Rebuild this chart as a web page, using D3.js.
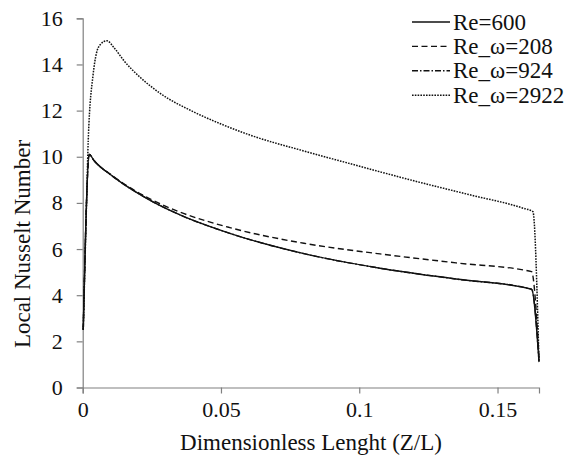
<!DOCTYPE html>
<html><head><meta charset="utf-8">
<script src="https://cdn.jsdelivr.net/npm/d3@7"></script>
</head>
<body style="margin:0;padding:0;background:#fff;"><svg id="chart" width="586" height="457" font-family="'Liberation Serif'"></svg>
<script>
// ---- data ----
const seriesNames = ["Re=600", "Re_\u03c9=208", "Re_\u03c9=924", "Re_\u03c9=2922"];
const xRe600   = [0.0002, 0.0024, 0.004, 0.011, 0.0231, 0.0352, 0.0532, 0.08, 0.1075, 0.135, 0.1623, 0.165];
const yRe600   = [2.5, 10.1, 9.85, 9.14, 8.2, 7.48, 6.68, 5.8, 5.17, 4.7, 4.26, 1.12];
const xRe208   = [0.0002, 0.0024, 0.004, 0.011, 0.0231, 0.0352, 0.0532, 0.08, 0.1075, 0.135, 0.1623, 0.165];
const yRe208   = [2.5, 10.1, 9.85, 9.16, 8.25, 7.6, 6.93, 6.25, 5.79, 5.4, 5.02, 1.3];
const xRe924   = [0.0002, 0.0024, 0.004, 0.011, 0.0231, 0.0352, 0.0532, 0.08, 0.1075, 0.135, 0.1623, 0.165];
const yRe924   = [2.5, 10.1, 9.85, 9.14, 8.2, 7.48, 6.68, 5.8, 5.17, 4.7, 4.26, 1.12];
const xRe2922  = [0.0002, 0.0015, 0.002, 0.0038, 0.005, 0.0063, 0.0087, 0.0115, 0.015, 0.0207, 0.028, 0.04, 0.05, 0.0605, 0.08, 0.0967, 0.12, 0.14, 0.159, 0.1628, 0.165];
const yRe2922  = [2.5, 8.5, 10.7, 13.6, 14.5, 14.85, 15.03, 14.7, 14.15, 13.45, 12.75, 11.95, 11.42, 10.94, 10.25, 9.7, 8.95, 8.35, 7.78, 7.62, 1.1];
const xTicks = [0, 0.05, 0.1, 0.15];
const xTickLabels = ["0", "0.05", "0.1", "0.15"];
const yTicks = [0, 2, 4, 6, 8, 10, 12, 14, 16];
const xTitle = "Dimensionless Lenght (Z/L)";
const yTitle = "Local Nusselt Number";

const seriesX = [xRe600, xRe208, xRe924, xRe2922];
const seriesY = [yRe600, yRe208, yRe924, yRe2922];
const dashes = [null, "6,3.5", "6,2,1.5,2", "1.6,1.2"];

// ---- layout ----
const FONT = "'Liberation Serif'";
const svg = d3.select("#chart");
const L = 82.7, R = 539, T = 18.3, B = 387.5;
const x = d3.scaleLinear().domain([0, 0.165]).range([L, R]);
const y = d3.scaleLinear().domain([0, 16]).range([B, T]);
const axisColor = "#808080";
const textColor = "#111";

const xAxis = svg.append("g").attr("transform", `translate(0,${B})`)
  .call(d3.axisBottom(x).tickValues(xTicks).tickFormat((d,i)=>xTickLabels[i]).tickSizeOuter(0).tickSize(6).tickPadding(8));
const yAxis = svg.append("g").attr("transform", `translate(${L},0)`)
  .call(d3.axisLeft(y).tickValues(yTicks).tickSizeOuter(0).tickSize(6).tickPadding(14));
[xAxis, yAxis].forEach(g => {
  g.attr("font-family", FONT).attr("font-size", 22);
  g.select(".domain").attr("stroke", axisColor).attr("stroke-width", 1.2);
  g.selectAll(".tick line").attr("stroke", axisColor).attr("stroke-width", 1.2);
  g.selectAll(".tick text").attr("fill", textColor).attr("font-family", FONT);
});

svg.append("text").attr("x", 311).attr("y", 450).attr("text-anchor", "middle")
  .attr("font-family", FONT).attr("font-size", 23)
  .attr("fill", textColor).text(xTitle);
svg.append("text").attr("transform", "translate(30,244) rotate(-90)").attr("text-anchor", "middle")
  .attr("font-family", FONT).attr("font-size", 23)
  .attr("fill", textColor).text(yTitle);

// ---- lines ----
const line = d3.line().x(d => x(d[0])).y(d => y(d[1])).curve(d3.curveMonotoneX);
seriesNames.forEach((name, i) => {
  const pts = seriesX[i].map((v, j) => [v, seriesY[i][j]]);
  svg.append("path").datum(pts).attr("d", line)
    .attr("fill", "none").attr("stroke", "#111").attr("stroke-width", i === 3 ? 1.5 : 1.4)
    .attr("stroke-dasharray", dashes[i]);
});

// ---- legend ----
const lg = svg.append("g");
seriesNames.forEach((name, i) => {
  const yy = 22 + i * 24.4;
  lg.append("line").attr("x1", 412).attr("x2", 450).attr("y1", yy).attr("y2", yy)
    .attr("stroke", "#111").attr("stroke-width", 1.4).attr("stroke-dasharray", dashes[i]);
  lg.append("text").attr("x", 453).attr("y", yy).attr("dy", "0.33em")
    .attr("font-family", FONT).attr("font-size", 23)
    .attr("fill", textColor).text(name);
});
</script></body></html>
